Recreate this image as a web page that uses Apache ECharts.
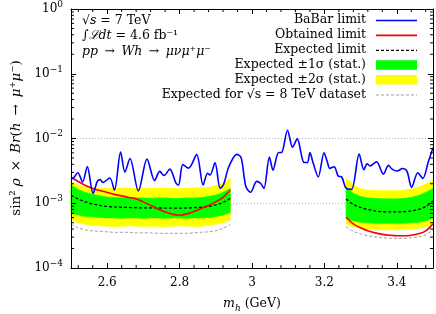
<!DOCTYPE html>
<html><head><meta charset="utf-8">
<script src="https://cdn.jsdelivr.net/npm/echarts@6/dist/echarts.min.js"></script>
<style>html,body{margin:0;padding:0;background:#fff}#c{width:436px;height:314px}</style>
</head><body><div id="c"></div>
<script>
// ---------- axis ranges / ticks ----------
const X_MIN = 2.5, X_MAX = 3.5, Y_MIN = 1e-4, Y_MAX = 1;
const gridLevels = [1e-3, 1e-2];

// ---------- BaBar limit ----------
const babarMass = [2.500,2.507,2.519,2.532,2.545,2.561,2.573,2.581,2.588,2.607,2.620,2.637,2.649,2.663,2.686,2.710,2.731,2.745,2.757,2.773,2.790,2.797,2.809,2.825,2.847,2.865,2.877,2.884,2.898,2.912,2.921,2.936,2.958,2.970,2.983,2.996,3.013,3.024,3.033,3.048,3.058,3.073,3.082,3.098,3.112,3.125,3.143,3.153,3.160,3.169,3.183,3.199,3.208,3.215,3.227,3.238,3.248,3.260,3.275,3.296,3.309,3.318,3.326,3.344,3.363,3.377,3.387,3.401,3.416,3.428,3.441,3.458,3.472,3.487,3.500];
const babarLimit = [2.37e-3,2.45e-3,2.96e-3,2.13e-3,3.68e-3,1.42e-3,2.20e-3,2.32e-3,2.09e-3,2.45e-3,1.60e-3,6.15e-3,3.03e-3,4.92e-3,1.55e-3,4.81e-3,2.24e-3,3.11e-3,2.68e-3,3.37e-3,2.05e-3,1.91e-3,3.95e-3,3.49e-3,5.63e-3,1.91e-3,2.90e-3,2.72e-3,4.21e-3,1.70e-3,1.91e-3,3.66e-3,5.69e-3,5.07e-3,1.81e-3,1.48e-3,2.18e-3,2.02e-3,1.70e-3,5.16e-3,3.25e-3,6.05e-3,6.09e-3,1.34e-2,7.35e-3,9.86e-3,4.29e-3,4.25e-3,6.05e-3,4.17e-3,2.54e-3,6.01e-3,4.37e-3,3.45e-3,3.66e-3,2.63e-3,2.54e-3,1.70e-3,1.64e-3,5.74e-3,3.29e-3,4.07e-3,3.77e-3,4.37e-3,2.82e-3,3.84e-3,3.37e-3,3.14e-3,3.45e-3,3.14e-3,1.76e-3,2.96e-3,2.42e-3,4.37e-3,7.22e-3];

// ---------- left mass window ----------
const massL = [2.50,2.52,2.54,2.56,2.58,2.60,2.62,2.64,2.66,2.68,2.70,2.72,2.74,2.76,2.78,2.80,2.82,2.84,2.86,2.88,2.90,2.92,2.94];
const obtainedL = [2.54e-3,2.17e-3,1.88e-3,1.69e-3,1.57e-3,1.47e-3,1.37e-3,1.30e-3,1.23e-3,1.17e-3,1.05e-3,9.25e-4,8.17e-4,7.35e-4,6.73e-4,6.54e-4,6.85e-4,7.48e-4,8.32e-4,9.25e-4,1.05e-3,1.23e-3,1.60e-3];
const expectedL = [1.33e-3,1.16e-3,1.05e-3,9.76e-4,9.25e-4,8.93e-4,8.77e-4,8.68e-4,8.62e-4,8.53e-4,8.47e-4,8.47e-4,8.47e-4,8.41e-4,8.38e-4,8.38e-4,8.47e-4,8.56e-4,8.68e-4,8.93e-4,9.42e-4,1.03e-3,1.19e-3];
const plus1L = [1.91e-3,1.63e-3,1.47e-3,1.37e-3,1.30e-3,1.25e-3,1.23e-3,1.23e-3,1.21e-3,1.21e-3,1.21e-3,1.19e-3,1.21e-3,1.21e-3,1.19e-3,1.19e-3,1.21e-3,1.21e-3,1.23e-3,1.27e-3,1.34e-3,1.47e-3,1.69e-3];
const minus1L = [7.09e-4,6.61e-4,6.26e-4,6.16e-4,6.05e-4,5.94e-4,5.94e-4,5.84e-4,5.94e-4,5.94e-4,5.84e-4,5.94e-4,5.94e-4,5.84e-4,5.94e-4,5.94e-4,5.84e-4,5.94e-4,5.94e-4,6.05e-4,6.26e-4,6.61e-4,7.22e-4];
const plus2L = [2.13e-3,1.91e-3,1.78e-3,1.72e-3,1.69e-3,1.72e-3,1.69e-3,1.72e-3,1.72e-3,1.69e-3,1.72e-3,1.69e-3,1.72e-3,1.72e-3,1.69e-3,1.69e-3,1.72e-3,1.72e-3,1.75e-3,1.78e-3,1.88e-3,2.05e-3,2.41e-3];
const minus2L = [5.53e-4,4.98e-4,4.72e-4,4.56e-4,4.48e-4,4.40e-4,4.32e-4,4.40e-4,4.48e-4,4.40e-4,4.32e-4,4.40e-4,4.40e-4,4.32e-4,4.40e-4,4.48e-4,4.40e-4,4.32e-4,4.40e-4,4.56e-4,4.72e-4,4.98e-4,5.53e-4];
const exp8L = [4.72e-4,4.17e-4,3.88e-4,3.75e-4,3.68e-4,3.62e-4,3.56e-4,3.56e-4,3.56e-4,3.49e-4,3.49e-4,3.49e-4,3.43e-4,3.43e-4,3.43e-4,3.43e-4,3.43e-4,3.49e-4,3.56e-4,3.62e-4,3.75e-4,4.10e-4,4.72e-4];

// ---------- right mass window ----------
const massR = [3.26,3.28,3.30,3.32,3.34,3.36,3.38,3.40,3.42,3.44,3.46,3.48,3.50];
const obtainedR = [6.05e-4,4.80e-4,4.17e-4,3.75e-4,3.49e-4,3.31e-4,3.20e-4,3.14e-4,3.14e-4,3.20e-4,3.37e-4,3.75e-4,4.80e-4];
const expectedR = [1.165e-3,9.58e-4,8.62e-4,8.03e-4,7.61e-4,7.40e-4,7.35e-4,7.35e-4,7.40e-4,7.61e-4,8.03e-4,8.93e-4,1.085e-3];
const plus1R = [1.78e-3,1.42e-3,1.27e-3,1.21e-3,1.19e-3,1.17e-3,1.17e-3,1.17e-3,1.19e-3,1.23e-3,1.32e-3,1.47e-3,1.69e-3];
const minus1R = [5.94e-4,5.34e-4,5.07e-4,4.98e-4,4.89e-4,4.89e-4,4.89e-4,4.89e-4,4.89e-4,4.98e-4,5.07e-4,5.34e-4,5.94e-4];
const plus2R = [2.41e-3,1.91e-3,1.69e-3,1.60e-3,1.57e-3,1.57e-3,1.57e-3,1.57e-3,1.60e-3,1.66e-3,1.78e-3,1.98e-3,2.28e-3];
const minus2R = [4.80e-4,4.32e-4,4.10e-4,3.95e-4,3.88e-4,3.88e-4,3.88e-4,3.88e-4,3.88e-4,3.95e-4,4.10e-4,4.32e-4,4.80e-4];
const exp8R = [4.32e-4,3.68e-4,3.37e-4,3.14e-4,3.03e-4,2.93e-4,2.87e-4,2.87e-4,2.87e-4,2.93e-4,3.03e-4,3.25e-4,3.88e-4];

// ---------- legend labels ----------
const legendLabels = ['BaBar limit','Obtained limit','Expected limit','Expected \u00b11\u03c3 (stat.)','Expected \u00b12\u03c3 (stat.)','Expected for \u221as = 8 TeV dataset'];

const F = 'DejaVu Serif';
const C = {blue:'#0000ff', red:'#ff0000', black:'#000000', green:'#00ff00', yellow:'#ffff00', gray:'#a0a0a0', grid:'#b0b0b0'};

function pairs(xs, ys){ return xs.map((x,i)=>[x, ys[i]]); }
// band: one quad per mass step, built from [m_i, lo_i, hi_i, m_i+1, lo_i+1, hi_i+1]
function band(xs, lo, hi, color, z){
  const data = [];
  for (let i=0; i<xs.length-1; i++) data.push([xs[i], lo[i], hi[i], xs[i+1], lo[i+1], hi[i+1]]);
  return {type:'custom', coordinateSystem:'cartesian2d', silent:true, z,
    encode:{x:[0,3], y:[1,2,4,5]},
    data,
    renderItem:(p, api)=>{
      const a = api.coord([api.value(0), api.value(2)]);
      const b = api.coord([api.value(3), api.value(5)]);
      const c = api.coord([api.value(3), api.value(4)]);
      const d = api.coord([api.value(0), api.value(1)]);
      return {type:'polygon', shape:{points:[a,b,c,d]}, style:{fill:color, stroke:color, lineWidth:0.6}};
    }};
}
function curve(xs, ys, color, width, type, smooth, z){
  return {type:'line', data:pairs(xs, ys), symbol:'none', smooth, lineStyle:{color, width, type}, silent:true, z};
}

const yMinor = [];
for (let e=-4; e<0; e++) for (let k=2; k<=9; k++) yMinor.push(k*Math.pow(10,e));
const xMinor = [];
for (let i=0; i<25; i++){ const m = +(2.52+0.04*i).toFixed(2); if (Math.abs(m*5-Math.round(m*5))>1e-6) xMinor.push(m); }

const series = [];
gridLevels.forEach(l => series.push({type:'line', data:[[X_MIN,l],[X_MAX,l]], symbol:'none', lineStyle:{color:C.grid, width:1, type:[1,2]}, silent:true, z:1}));
series.push(band(massL, minus2L, plus2L, C.yellow, 2));
series.push(band(massR, minus2R, plus2R, C.yellow, 2));
series.push(band(massL, minus1L, plus1L, C.green, 2));
series.push(band(massR, minus1R, plus1R, C.green, 2));
series.push(curve(massL, exp8L, C.gray, 1, [3,2], 0.3, 3));
series.push(curve(massR, exp8R, C.gray, 1, [3,2], 0.3, 3));
series.push(curve(massL, expectedL, C.black, 1.3, [3,2], 0.3, 4));
series.push(curve(massR, expectedR, C.black, 1.3, [3,2], 0.3, 4));
series.push(curve(massL, obtainedL, C.red, 1.6, 'solid', 0.3, 5));
series.push(curve(massR, obtainedR, C.red, 1.6, 'solid', 0.3, 5));
series.push(curve(babarMass, babarLimit, C.blue, 1.6, 'solid', 0.3, 6));
// minor ticks (log decades 2..9, and x every 0.04) drawn through the axes' scales
series.push({type:'custom', coordinateSystem:'cartesian2d', silent:true, z:10, clip:false,
  data: yMinor.map(v=>[X_MIN, v]),
  renderItem:(p, api)=>{ const v = api.value(1); const a = api.coord([X_MIN, v]); const b = api.coord([X_MAX, v]);
    return {type:'group', children:[
      {type:'line', shape:{x1:a[0], y1:a[1], x2:a[0]+3, y2:a[1]}, style:{stroke:'#000', lineWidth:1}},
      {type:'line', shape:{x1:b[0]-3, y1:b[1], x2:b[0], y2:b[1]}, style:{stroke:'#000', lineWidth:1}}]}; }});
series.push({type:'custom', coordinateSystem:'cartesian2d', silent:true, z:10, clip:false,
  data: xMinor.map(m=>[m, Y_MIN]),
  renderItem:(p, api)=>{ const m = api.value(0); const a = api.coord([m, Y_MIN]); const b = api.coord([m, Y_MAX]);
    return {type:'group', children:[
      {type:'line', shape:{x1:a[0], y1:a[1], x2:a[0], y2:a[1]-3}, style:{stroke:'#000', lineWidth:1}},
      {type:'line', shape:{x1:b[0], y1:b[1], x2:b[0], y2:b[1]+3}, style:{stroke:'#000', lineWidth:1}}]}; }});

const axLine = {show:true, onZero:false, lineStyle:{color:'#000', width:1}};
const axTick = {show:true, inside:true, length:5, lineStyle:{color:'#000', width:1}};

// ---------- legend & annotations ----------
const graphic = [];
const legY0 = 20, legDy = 14.9, legTextX = 366, symX = 376, symW = 41;
legendLabels.forEach((t,i)=>{
  graphic.push({type:'text', x:legTextX, y:legY0+legDy*i, silent:true, z:20,
    style:{text:t, fill:'#000', fontFamily:F, fontSize:12.5, align:'right', verticalAlign:'middle'}});
});
const symY = i => legY0+legDy*i;
graphic.push({type:'line', silent:true, z:20, shape:{x1:symX, y1:symY(0)+0.5, x2:symX+symW, y2:symY(0)+0.5}, style:{stroke:C.blue, lineWidth:1.6}});
graphic.push({type:'line', silent:true, z:20, shape:{x1:symX, y1:symY(1)+0.5, x2:symX+symW, y2:symY(1)+0.5}, style:{stroke:C.red, lineWidth:1.6}});
graphic.push({type:'line', silent:true, z:20, shape:{x1:symX, y1:symY(2)+0.5, x2:symX+symW, y2:symY(2)+0.5}, style:{stroke:C.black, lineWidth:1.3, lineDash:[3,2]}});
graphic.push({type:'rect', silent:true, z:20, shape:{x:symX, y:symY(3)-4.5, width:symW, height:9.5}, style:{fill:C.green}});
graphic.push({type:'rect', silent:true, z:20, shape:{x:symX, y:symY(4)-4.5, width:symW, height:9.5}, style:{fill:C.yellow}});
graphic.push({type:'line', silent:true, z:20, shape:{x1:symX, y1:symY(5)+0.5, x2:symX+symW, y2:symY(5)+0.5}, style:{stroke:C.gray, lineWidth:1, lineDash:[3,2]}});

const it = {fontFamily:F, fontSize:12.5, fontStyle:'italic', fill:'#000'};
const rm = {fontFamily:F, fontSize:12.5, fill:'#000'};
const it2 = {fontFamily:F, fontSize:13.5, fontStyle:'italic', fill:'#000'};
const rm2 = {fontFamily:F, fontSize:13.5, fill:'#000'};
const ARR = ' \u2009\u2192\u2009 ';
graphic.push({type:'text', x:82, y:21, silent:true, z:20, style:{text:'{r|\u221a}{i|s}{r| = 7 TeV}', rich:{r:rm, i:it}, fontFamily:F, fontSize:12.5, fill:'#000', align:'left', verticalAlign:'middle'}});
graphic.push({type:'text', x:82, y:36, silent:true, z:20, style:{text:'{r|\u222b}{i|\u2112dt}{r| = 4.6 fb\u207b\u00b9}', rich:{r:rm, i:it}, fontFamily:F, fontSize:12.5, fill:'#000', align:'left', verticalAlign:'middle'}});
graphic.push({type:'text', x:82, y:52, silent:true, z:20, style:{text:'{i|pp}{r|' + ARR + '}{i|Wh}{r|' + ARR + '}{i|\u03bc\u03bd\u03bc}{r|\u207a}{i|\u03bc}{r|\u207b}', rich:{r:rm, i:it}, fontFamily:F, fontSize:12.5, fill:'#000', align:'left', verticalAlign:'middle'}});
// axis titles
graphic.push({type:'text', x:16, y:138, rotation:Math.PI/2, silent:true, z:20, style:{text:'{r|sin\u00b2 }{i|\u03c1}{r| \u2009\u00d7\u2009 }{i|Br}{r|(}{i|h}{r|' + ARR + '}{i|\u03bc}{r|\u207a}{i|\u03bc}{r|\u207b)}', rich:{r:rm2, i:it2}, fontFamily:F, fontSize:13.5, fill:'#000', align:'center', verticalAlign:'middle'}});
graphic.push({type:'text', x:252, y:304, silent:true, z:20, style:{text:'{i|m}{s|h}{r| (GeV)}', rich:{r:Object.assign({lineHeight:18}, rm), i:Object.assign({lineHeight:18}, it), s:{fontFamily:F, fontSize:9, fontStyle:'italic', fill:'#000', lineHeight:10, verticalAlign:'bottom'}}, fontFamily:F, fontSize:12.5, fill:'#000', align:'center', verticalAlign:'middle'}});

const chart = echarts.init(document.getElementById('c'), null, {renderer:'canvas'});
chart.setOption({
  animation:false,
  backgroundColor:'#fff',
  grid:{left:71, right:3, top:8, bottom:46, containLabel:false},
  xAxis:[
    {type:'value', min:X_MIN, max:X_MAX, position:'bottom', z:10, axisLine:axLine, axisTick:axTick, splitLine:{show:false},
      axisLabel:{showMinLabel:false, showMaxLabel:false, margin:9, color:'#000', fontFamily:F, fontSize:12}},
    {type:'value', min:X_MIN, max:X_MAX, position:'top', z:10, axisLine:axLine, axisTick:axTick, splitLine:{show:false}, axisLabel:{show:false}}
  ],
  yAxis:[
    {type:'log', logBase:10, min:Y_MIN, max:Y_MAX, position:'left', z:10, axisLine:axLine, axisTick:axTick, splitLine:{show:false},
      axisLabel:{margin:8, color:'#000',
        formatter:(v)=>{ const e = Math.round(Math.log10(v)); return '{b|10}{s|' + (e<0 ? '\u2212'+(-e) : String(e)) + '}'; },
        rich:{b:{fontFamily:F, fontSize:12, color:'#000', lineHeight:18}, s:{fontFamily:F, fontSize:9, color:'#000', lineHeight:9, verticalAlign:'top'}}}},
    {type:'log', logBase:10, min:Y_MIN, max:Y_MAX, position:'right', z:10, axisLine:axLine, axisTick:axTick, splitLine:{show:false}, axisLabel:{show:false}}
  ],
  series,
  graphic
});
</script></body></html>
